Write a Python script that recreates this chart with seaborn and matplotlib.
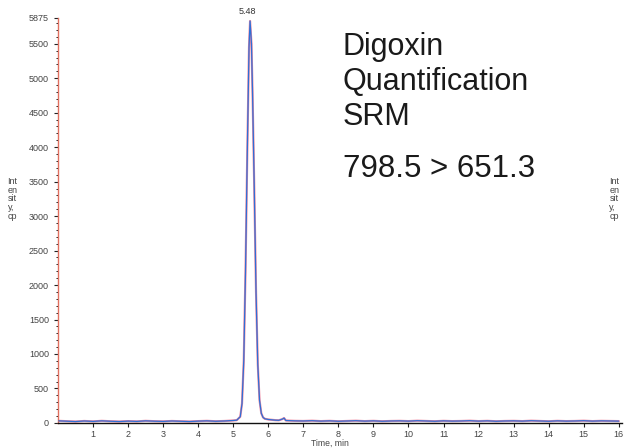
import matplotlib
matplotlib.use("Agg")
import matplotlib.pyplot as plt
import seaborn as sns
import pandas as pd
from matplotlib.ticker import MultipleLocator, FixedLocator

# ---- data ----
time_min = [0.02, 0.25, 0.5, 0.75, 1.0, 1.25, 1.5, 1.75, 2.0, 2.25, 2.5, 2.75,
            3.0, 3.25, 3.5, 3.75, 4.0, 4.25, 4.5, 4.75, 5.0, 5.1, 5.2, 5.25,
            5.3, 5.35, 5.4, 5.45, 5.48, 5.52, 5.55, 5.6, 5.65, 5.7, 5.75, 5.8,
            5.85, 5.9, 6.0, 6.1, 6.2, 6.3, 6.4, 6.45, 6.5, 6.75, 7.0, 7.25,
            7.5, 7.75, 8.0, 8.25, 8.5, 8.75, 9.0, 9.25, 9.5, 9.75, 10.0, 10.25,
            10.5, 10.75, 11.0, 11.25, 11.5, 11.75, 12.0, 12.25, 12.5, 12.75,
            13.0, 13.25, 13.5, 13.75, 14.0, 14.25, 14.5, 14.75, 15.0, 15.25,
            15.5, 15.75, 16.0]
intensity = [30, 25, 20, 28, 22, 30, 24, 20, 26, 22, 30, 25,
             22, 28, 24, 20, 26, 30, 24, 28, 35, 40, 90, 280,
             900, 2200, 3900, 5450, 5830, 5500, 4800, 3400, 1900, 850, 330, 140,
             80, 60, 50, 45, 40, 38, 55, 70, 35, 30, 28, 32,
             26, 30, 24, 28, 32, 26, 30, 24, 28, 30, 26, 32,
             28, 24, 30, 26, 28, 32, 26, 30, 24, 28,
             30, 26, 32, 28, 24, 30, 26, 28, 32, 26,
             30, 28, 26]

peak_rt = 5.48
peak_label = "5.48"
y_ticks = [0, 500, 1000, 1500, 2000, 2500, 3000, 3500, 4000, 4500, 5000, 5500, 5875]
x_ticks = list(range(1, 17))
title_lines = ["Digoxin", "Quantification", "SRM"]
transition = "798.5 > 651.3"

df = pd.DataFrame({"Time": time_min, "Intensity": intensity})

sns.set_style("white")
plt.rcParams["font.family"] = ["Liberation Sans", "DejaVu Sans"]

fig = plt.figure(figsize=(6.27, 4.48), dpi=100)
ax = fig.add_axes([0.0925, 0.056, 0.9, 0.904])

sns.lineplot(data=df, x="Time", y="Intensity", ax=ax, color="#f08aa0", lw=1.6, zorder=2)
sns.lineplot(data=df, x="Time", y="Intensity", ax=ax, color="#2f6fd6", lw=0.9, zorder=3)

ax.set_xlim(0, 16.1)
ax.set_ylim(0, 5875)
ax.yaxis.set_major_locator(FixedLocator(y_ticks))
ax.yaxis.set_minor_locator(MultipleLocator(100))
ax.xaxis.set_major_locator(FixedLocator(x_ticks))
ax.tick_params(axis="both", which="major", labelsize=6.5, labelcolor="#444444",
               length=3, width=0.8, color="#222222", direction="out", bottom=True, left=True)
ax.tick_params(axis="x", which="major", pad=2)
ax.tick_params(axis="y", which="minor", length=1.8, width=0.7, color="#222222", left=True)
ax.set_xlabel("")
ax.set_ylabel("")

for side in ["top", "right"]:
    ax.spines[side].set_visible(False)
ax.spines["left"].set_color("#e07060")
ax.spines["left"].set_linewidth(1.0)
ax.spines["bottom"].set_color("#111111")
ax.spines["bottom"].set_linewidth(1.0)

ax.text(peak_rt - 0.08, 5900, peak_label, ha="center", va="bottom", fontsize=6.5, color="#333333")

for txt, yv in zip(title_lines, [5340, 4833, 4325]):
    ax.text(8.12, yv, txt, ha="left", va="baseline", fontsize=22, color="#1a1a1a")
ax.text(8.12, 3570, transition, ha="left", va="baseline", fontsize=22.5, color="#1a1a1a")

fig.text(0.527, 0.001, "Time, min", ha="center", va="bottom", fontsize=6.2, color="#444444")
fig.text(0.012, 0.605, "Int\nen\nsit\ny,\ncp", ha="left", va="top", fontsize=6.5,
         color="#444444", linespacing=0.95)
fig.text(0.972, 0.605, "Int\nen\nsit\ny,\ncp", ha="left", va="top", fontsize=6.5,
         color="#444444", linespacing=0.95)

fig.savefig("out.png", dpi=100)
